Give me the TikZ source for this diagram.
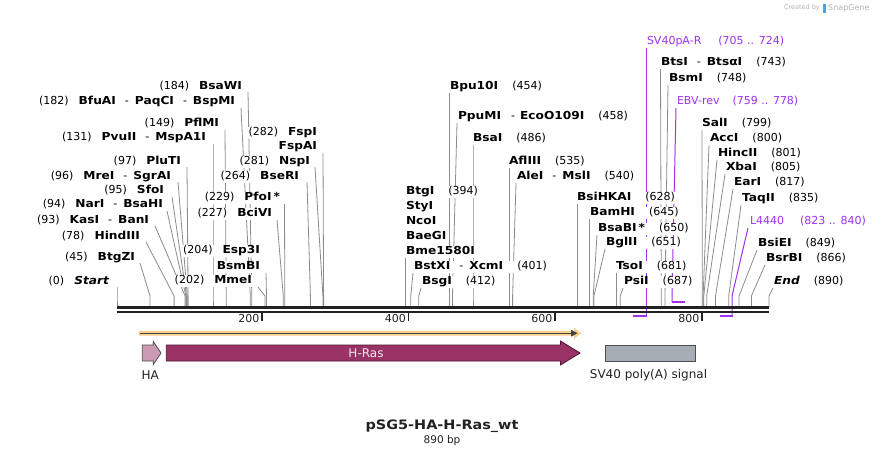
\documentclass[tikz,border=0pt]{standalone}
\usepackage{fontspec}
\setmainfont{DejaVu Sans}[BoldFont={DejaVu Sans Bold},ItalicFont={DejaVu Sans Oblique},BoldItalicFont={DejaVu Sans Bold Oblique}]
\usepackage{graphicx}
\usetikzlibrary{arrows.meta}
\pgfdeclarelayer{back}
\pgfdeclarelayer{bg}
\pgfsetlayers{back,bg,main}
\definecolor{sitegray}{HTML}{8C8C8C}
\definecolor{primer}{RGB}{160,50,240}
\definecolor{hras}{HTML}{993366}
\definecolor{hrasedge}{HTML}{4A1830}
\definecolor{hafill}{HTML}{CC99B4}
\definecolor{svfill}{HTML}{A7ADB4}
\definecolor{orf}{HTML}{FBD08E}
\definecolor{bb}{HTML}{222222}
\definecolor{credit}{HTML}{B4B4B4}
\definecolor{snapblue}{HTML}{4AA3DF}
\newcommand\nm[1]{\scalebox{1.11}[1]{\bfseries #1}}
\newcommand\gp{\hspace{10pt}}
\newcommand\gq{\hspace{14pt}}
\newcommand\sepa{\hspace{9pt}-\hspace{6pt}}
\newcommand\LS[8]{%
 \begin{pgfonlayer}{bg}
  \coordinate (s#1) at (#2,306);
  \coordinate (k#1) at (#2,296);
  \coordinate (a#1) at (#3,#4);
  \draw[siteline] (a#1) -- (k#1) -- (s#1);
 \end{pgfonlayer}
 \node[lbl,anchor=#7] (l#1) at (#5,#6) {#8};
}
\tikzset{
  siteline/.style={draw=sitegray,line width=0.8pt},
  lbl/.style={fill=white,inner sep=1pt,outer sep=0pt,text height=8pt,text depth=2.5pt,font=\fontsize{11}{13}\selectfont},
  plbl/.style={lbl,text=primer},
  pline/.style={draw=primer,line width=1pt},
  pbr/.style={draw=primer,line width=2pt},
  featlbl/.style={inner sep=0pt,font=\fontsize{12}{14}\selectfont,text=bb},
  tick/.style={draw=bb,line width=1.8pt},
  ticklbl/.style={inner sep=0pt,font=\fontsize{11}{13}\selectfont,text=bb}
}
\begin{document}
\begin{tikzpicture}[x=1pt,y=-1pt]
\begin{pgfonlayer}{back}
\path[use as bounding box,fill=white] (0,0) rectangle (886,456);
\end{pgfonlayer}

% credit
\node[inner sep=0pt,anchor=east,text=credit,font=\fontsize{6.5}{8}\selectfont] (cr1) at (820,8) {Created by};
\fill[snapblue] (823,3.5) rectangle (826,12.5);
\node[inner sep=0pt,anchor=west,text=credit,font=\fontsize{8}{9}\selectfont] (cr2) at (828,8) {SnapGene};

% ---------- left labels ----------
\LS{0}{117}{117}{287}{110}{282}{east}{(0)\gp\nm{\itshape Start}}
\LS{45}{150}{140}{263}{136}{258}{east}{(45)\gp\nm{BtgZI}}
\LS{78}{174.1}{146}{242}{141}{237}{east}{(78)\gp\nm{HindIII}}
\LS{93}{185.1}{155}{226}{150}{221}{east}{(93)\gp\nm{KasI}\sepa\nm{BanI}}
\LS{94}{185.9}{167}{211}{164}{205}{east}{(94)\gp\nm{NarI}\sepa\nm{BsaHI}}
\LS{95}{186.6}{172}{197}{165}{191}{east}{(95)\gp\nm{SfoI}}
\LS{96}{187.3}{178}{182}{172}{177}{east}{(96)\gp\nm{MreI}\sepa\nm{SgrAI}}
\LS{97}{188.1}{187}{167}{182}{162}{east}{(97)\gp\nm{PluTI}}
\LS{131}{213}{213}{144}{207}{138}{east}{(131)\gp\nm{PvuII}\sepa\nm{MspA1I}}
\LS{149}{226.2}{225}{130}{220}{124}{east}{(149)\gp\nm{PflMI}}
\LS{182}{250.3}{241}{108}{236}{102}{east}{(182)\gp\nm{BfuAI}\sepa\nm{PaqCI}\sepa\nm{BspMI}}
\LS{184}{251.8}{248}{92}{243}{87}{east}{(184)\gp\nm{BsaWI}}
\LS{282}{323.6}{323}{153}{318}{133}{east}{(282)\gp\nm{FspI}}
\node[lbl,anchor=east] (l282b) at (318,147) {\nm{FspAI}};
\LS{281}{322.9}{315}{167}{311}{162}{east}{(281)\gp\nm{NspI}}
\LS{264}{310.4}{307}{182}{300}{177}{east}{(264)\gp\nm{BseRI}}
\LS{229}{284.8}{284.5}{204}{281}{198}{east}{(229)\gp\nm{PfoI\,*}}
\LS{227}{283.3}{277}{220}{273}{214}{east}{(227)\gp\nm{BciVI}}
\LS{204}{266.5}{266}{273}{261}{251}{east}{(204)\gp\nm{Esp3I}}
\node[lbl,anchor=east] (l204b) at (261,267) {\nm{BsmBI}};
\LS{202}{265}{258}{287}{253}{281}{east}{(202)\gp\nm{MmeI}}

% ---------- middle labels ----------
\LS{454}{449.6}{449.6}{92}{449}{87}{west}{\nm{Bpu10I}\gq(454)}
\LS{458}{452.5}{457}{123}{457}{117}{west}{\nm{PpuMI}\hspace{10pt}-\hspace{5pt}\nm{EcoO109I}\gq(458)}
\LS{486}{473}{473}{145}{472}{139}{west}{\nm{BsaI}\gq(486)}
\LS{535}{508.9}{508.9}{168}{508}{162}{west}{\nm{AflIII}\gq(535)}
\LS{540}{512.6}{516}{183}{516}{177}{west}{\nm{AleI}\sepa\nm{MslI}\gq(540)}
\LS{394}{405.6}{405.6}{258}{405}{192}{west}{\nm{BtgI}\gq(394)}
\node[lbl,anchor=west] (l394b) at (405,207) {\nm{StyI}};
\node[lbl,anchor=west] (l394c) at (405,222) {\nm{NcoI}};
\node[lbl,anchor=west] (l394d) at (405,237) {\nm{BaeGI}};
\node[lbl,anchor=west] (l394e) at (405,252) {\nm{Bme1580I}};
\LS{401}{410.8}{413}{273}{413}{267}{west}{\nm{BstXI}\sepa\nm{XcmI}\gq(401)}
\LS{412}{418.8}{421}{288}{421}{282}{west}{\nm{BsgI}\gq(412)}
\LS{628}{577.1}{577.1}{204}{576}{198}{west}{\nm{BsiHKAI}\gq(628)}
\LS{645}{589.5}{589.5}{219}{589}{213}{west}{\nm{BamHI}\gq(645)}
\LS{650}{593.2}{597}{235}{597}{229}{west}{\nm{BsaBI\,*}\gq(650)}
\LS{651}{593.9}{605}{249}{605}{243}{west}{\nm{BglII}\gq(651)}
\LS{681}{615.9}{615.9}{273}{615}{267}{west}{\nm{TsoI}\gq(681)}
\LS{687}{620.3}{623}{288}{623}{282}{west}{\nm{PsiI}\gq(687)}

% ---------- right labels ----------
\LS{743}{661.3}{660.5}{69}{660}{63}{west}{\nm{BtsI}\sepa\nm{BtsαI}\gq(743)}
\LS{748}{665}{668}{85}{668}{79}{west}{\nm{BsmI}\gq(748)}
\LS{799}{702.3}{702}{130}{701}{124}{west}{\nm{SalI}\gq(799)}
\LS{800}{703.1}{709}{145}{709}{139}{west}{\nm{AccI}\gq(800)}
\LS{801}{703.8}{717}{160}{717}{154}{west}{\nm{HincII}\gq(801)}
\LS{805}{706.7}{725}{174}{725}{168}{west}{\nm{XbaI}\gq(805)}
\LS{817}{715.5}{733}{189}{733}{183}{west}{\nm{EarI}\gq(817)}
\LS{835}{728.7}{741}{205}{741}{199}{west}{\nm{TaqII}\gq(835)}
\LS{849}{739}{757}{250}{757}{244}{west}{\nm{BsiEI}\gq(849)}
\LS{866}{751.4}{765}{265}{765}{259}{west}{\nm{BsrBI}\gq(866)}
\LS{890}{769}{773}{288}{773}{282}{west}{\nm{\itshape End}\gq(890)}

% ---------- primers ----------
\node[plbl,anchor=west] (pSV) at (646,42) {SV40pA-R\hspace{17pt}(705 .. 724)};
\node[plbl,anchor=west] (pEBV) at (676,102) {EBV-rev\hspace{13pt}(759 .. 778)};
\node[plbl,anchor=west] (pL) at (749,222) {L4440\hspace{16pt}(823 .. 840)};
\coordinate (svA) at (646,48); \coordinate (svB) at (646,316); \coordinate (svC) at (633,316);
\coordinate (ebA) at (676,108); \coordinate (ebB) at (672,296); \coordinate (ebC) at (672,302); \coordinate (ebD) at (685,302);
\coordinate (lA) at (748,228); \coordinate (lB) at (732,296); \coordinate (lC) at (732,316); \coordinate (lD) at (720,316);
\begin{pgfonlayer}{bg}
\draw[pline] (svA) -- (svB);
\draw[pline] (ebA) -- (ebB) -- (ebC);
\draw[pline] (lA) -- (lB) -- (lC);
\end{pgfonlayer}
\draw[pbr] ([xshift=0.5pt]svB) -- (svC);
\draw[pbr] ([xshift=-0.5pt]ebC) -- (ebD);
\draw[pbr] ([xshift=0.5pt]lC) -- (lD);

% ---------- backbone ----------
\coordinate (bbL1) at (117,307.5); \coordinate (bbR1) at (769,307.5);
\coordinate (bbL2) at (117,311.8); \coordinate (bbR2) at (769,311.8);
\draw[bb,line width=3pt] (bbL1) -- (bbR1);
\draw[bb,line width=2.6pt] (bbL2) -- (bbR2);

% ruler ticks
\foreach \t/\xx in {200/262,400/408.5,600/555,800/702}{
  \draw[tick] (\xx,313) -- (\xx,321);
  \node[ticklbl,anchor=east] (t\t) at (\xx-2.5,318.5) {\t};
}

% ---------- ORF arrow ----------
\fill[orf] (139,330.8) -- (574,330.8) -- (574,327.5) -- (581,333.2) -- (574,339) -- (574,335.6) -- (139,335.6) -- cycle;
\draw[bb!85,line width=1.4pt] (140,333.2) -- (572,333.2);
\fill[bb!85] (571,329.8) -- (577.5,333.2) -- (571,336.6) -- cycle;

% ---------- features ----------
\draw[fill=hafill,draw=bb!80,line width=0.8pt] (142.3,345) -- (153.3,345) -- (153.3,341.5) -- (161,353) -- (153.3,364.5) -- (153.3,361) -- (142.3,361) -- cycle;
\draw[fill=hras,draw=hrasedge,line width=0.8pt] (166.3,345) -- (560.5,345) -- (560.5,341) -- (580,353) -- (560.5,365) -- (560.5,361) -- (166.3,361) -- cycle;
\draw[fill=svfill,draw=bb!80,line width=0.8pt] (605,345) rectangle (695,361);
\node[featlbl,text=white!88!hras] (fHras) at (366,353) {H-Ras};
\node[featlbl,anchor=west] (fHA) at (141.5,375.5) {HA};
\node[featlbl] (fSV) at (648.5,375.5) {SV40 poly(A) signal};

% ---------- title ----------
\node[inner sep=0pt,text=bb,font=\fontsize{13}{15}\selectfont] (title) at (442,426) {\nm{pSG5-HA-H-Ras\_wt}};
\node[inner sep=0pt,text=bb,font=\fontsize{10.5}{12}\selectfont] (size) at (442,440.5) {890 bp};
\end{tikzpicture}
\end{document}
